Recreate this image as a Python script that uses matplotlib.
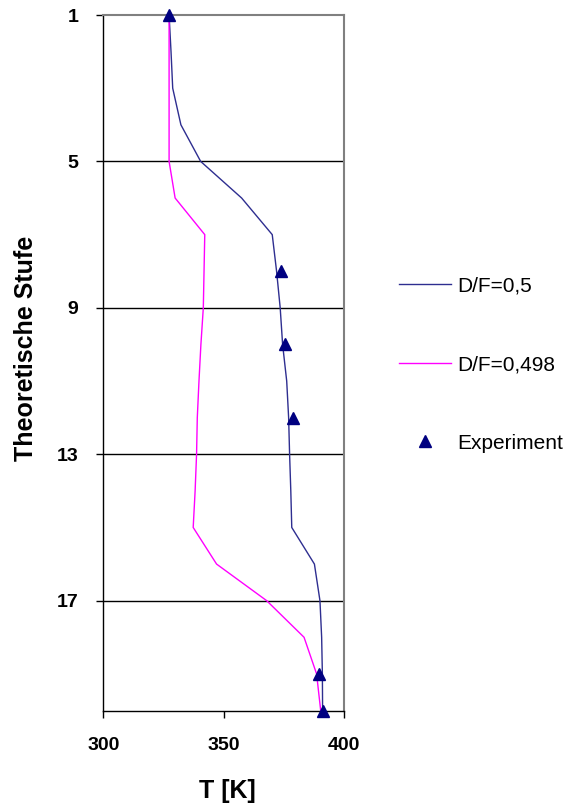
import matplotlib
matplotlib.use("Agg")
import matplotlib.pyplot as plt
from matplotlib.lines import Line2D

plt.rcParams['font.family'] = ['Liberation Sans', 'DejaVu Sans']

stages = list(range(1, 21))
T_df05 = [327.3, 328.1, 328.8, 332.2, 340.4, 357.4, 370.1, 371.9, 373.4, 374.4,
          376.1, 376.9, 377.3, 377.8, 378.2, 387.6, 389.9, 390.6, 390.9, 391.0]
T_df0498 = [327.3, 327.3, 327.3, 327.3, 327.3, 329.8, 342.1, 341.8, 341.5, 340.5,
            339.7, 339.0, 338.7, 338.1, 337.3, 347.0, 367.8, 383.3, 388.5, 390.2]
exp_stages = [1, 8, 10, 12, 19, 20]
exp_T = [327.3, 373.7, 375.5, 378.6, 389.5, 391.0]

series_labels = ["D/F=0,5", "D/F=0,498", "Experiment"]
xticks = [300, 350, 400]
yticks = [1, 5, 9, 13, 17]

fig = plt.figure(figsize=(5.74, 8.05), dpi=100)
ax = fig.add_axes([103.3/574, 1-710.5/805, 241/574, 695.5/805])

navy = '#000080'
blue_line = '#2e2e90'
for yv in yticks[1:]:
    ax.axhline(yv, color='black', lw=1.0, zorder=1)

ax.plot(T_df05, stages, color=blue_line, lw=1.0, zorder=3)
ax.plot(T_df0498, stages, color='#ff00ff', lw=1.0, zorder=3)
ax.plot(exp_T, exp_stages, linestyle='none', marker='^', markersize=8.5,
        color=navy, zorder=4, clip_on=False)

ax.set_xlim(300, 400)
ax.set_ylim(20, 1)
ax.set_xticks(xticks)
ax.set_yticks(yticks)
ax.tick_params(axis='x', direction='out', length=5, width=1, pad=14, labelsize=14)
ax.tick_params(axis='y', direction='out', length=5, width=1, pad=13, labelsize=14)
for lab in ax.get_xticklabels() + ax.get_yticklabels():
    lab.set_fontweight('bold')

for s in ['left', 'bottom']:
    ax.spines[s].set_color('black')
    ax.spines[s].set_linewidth(1.0)
for s in ['top', 'right']:
    ax.spines[s].set_color('#808080')
    ax.spines[s].set_linewidth(1.5)

ax.set_xlabel("T [K]", fontsize=18, fontweight='bold')
ax.set_ylabel("Theoretische Stufe", fontsize=18, fontweight='bold')
ax.xaxis.set_label_coords(0.513, -0.099)
ax.yaxis.set_label_coords(-0.27, 0.52)

handles = [Line2D([], [], color=blue_line, lw=1.0),
           Line2D([], [], color='#ff00ff', lw=1.0),
           Line2D([], [], linestyle='none', marker='^', markersize=8.5, color=navy)]
fig.legend(handles, series_labels, loc='center left',
           bbox_to_anchor=(399/574, 1-364.5/805), frameon=False,
           fontsize=15, handlelength=2.5, handletextpad=0.3,
           labelspacing=2.87, borderpad=0, borderaxespad=0, numpoints=1)

fig.savefig("out.png", dpi=100)
